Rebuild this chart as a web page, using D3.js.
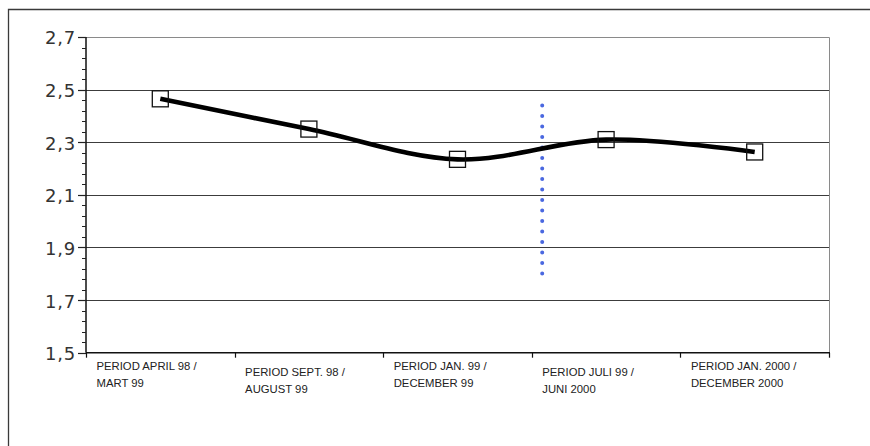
<!DOCTYPE html>
<html>
<head>
<meta charset="utf-8">
<script src="https://cdn.jsdelivr.net/npm/d3@7"></script>
<style>
  html, body { margin: 0; padding: 0; background: #fff; }
  svg { display: block; }
</style>
</head>
<body>
<svg id="chart" width="870" height="446"></svg>
<script>
// Period categories (two-line labels)
const periodLines = [
  ["PERIOD APRIL 98 /", "MART 99"],
  ["PERIOD SEPT. 98 /", "AUGUST 99"],
  ["PERIOD JAN. 99 /", "DECEMBER 99"],
  ["PERIOD JULI 99 /", "JUNI 2000"],
  ["PERIOD JAN. 2000 /", "DECEMBER 2000"]
];
// Mean value per period
const values = [2.465, 2.35, 2.235, 2.31, 2.263];
// Value-axis ticks
const yTicks = [1.5, 1.7, 1.9, 2.1, 2.3, 2.5, 2.7];
// Vertical marker: position on the category axis (in category units) and value span
const markerAt = 3.07;
const markerSpan = [1.80, 2.44];

const svg = d3.select("#chart");
const W = 870, H = 446;
const plot = { left: 86, right: 829, top: 37, bottom: 352.7 };

const x = d3.scaleLinear().domain([0, periodLines.length]).range([plot.left, plot.right]);
const y = d3.scaleLinear().domain([1.5, 2.7]).range([plot.bottom, plot.top]);

// Outer frame (left and top edges)
svg.append("path")
  .attr("d", `M8.5,${H + 2} L8.5,9.5 L${W + 2},9.5`)
  .attr("fill", "none").attr("stroke", "#3a3a3a").attr("stroke-width", 1.3);

// Plot-area border (top and right)
svg.append("path")
  .attr("d", `M${plot.left},${y(2.7) + 0.5} L${plot.right + 0.5},${y(2.7) + 0.5} L${plot.right + 0.5},${plot.bottom}`)
  .attr("fill", "none").attr("stroke", "#8a8a8a").attr("stroke-width", 1);

// Horizontal gridlines
svg.append("g").selectAll("line")
  .data(yTicks.filter(t => t > 1.5 && t < 2.7))
  .join("line")
  .attr("x1", plot.left).attr("x2", plot.right)
  .attr("y1", d => Math.round(y(d)) + 0.5).attr("y2", d => Math.round(y(d)) + 0.5)
  .attr("stroke", "#3c3c3c").attr("stroke-width", 1.2);

// Value axis with minor ticks
const minorTicks = d3.range(1.5, 2.7001, 0.04).filter(t => !yTicks.some(m => Math.abs(m - t) < 1e-6));
const yAxis = svg.append("g").attr("transform", `translate(${plot.left},0)`);
yAxis.append("line")
  .attr("x1", 0).attr("x2", 0).attr("y1", plot.top).attr("y2", plot.bottom)
  .attr("stroke", "#111").attr("stroke-width", 1.5);
yAxis.selectAll("line.minor").data(minorTicks).join("line").attr("class", "minor")
  .attr("x1", -4).attr("x2", 0)
  .attr("y1", d => Math.round(y(d)) + 0.5).attr("y2", d => Math.round(y(d)) + 0.5)
  .attr("stroke", "#222").attr("stroke-width", 1);
yAxis.selectAll("line.major").data(yTicks).join("line").attr("class", "major")
  .attr("x1", -8).attr("x2", 0)
  .attr("y1", d => Math.round(y(d)) + 0.5).attr("y2", d => Math.round(y(d)) + 0.5)
  .attr("stroke", "#222").attr("stroke-width", 1.2);
yAxis.selectAll("text").data(yTicks).join("text")
  .attr("x", -10).attr("y", d => y(d) + 1)
  .attr("dy", "0.36em")
  .attr("text-anchor", "end")
  .attr("font-family", "DejaVu Sans, Verdana, sans-serif")
  .attr("font-size", 18)
  .attr("letter-spacing", 0.8)
  .attr("fill", "#333")
  .text(d => d3.format(".1f")(d).replace(".", ","));

// Category axis
const xAxis = svg.append("g");
xAxis.append("line")
  .attr("x1", plot.left).attr("x2", plot.right + 1)
  .attr("y1", plot.bottom).attr("y2", plot.bottom)
  .attr("stroke", "#111").attr("stroke-width", 1.6);
xAxis.selectAll("line.tick").data(d3.range(periodLines.length + 1)).join("line").attr("class", "tick")
  .attr("x1", d => Math.round(x(d)) + 0.5).attr("x2", d => Math.round(x(d)) + 0.5)
  .attr("y1", plot.bottom).attr("y2", plot.bottom + 5)
  .attr("stroke", "#111").attr("stroke-width", 1.2);
const catLabels = xAxis.selectAll("text").data(periodLines).join("text")
  .attr("font-family", "Liberation Sans, Arial, sans-serif")
  .attr("font-size", 11.3)
  .attr("fill", "#222")
  .attr("transform", (d, i) => `translate(${x(i) + 10.5},${plot.bottom + (i % 2 ? 23.5 : 17.5)})`);
catLabels.selectAll("tspan").data(d => d).join("tspan")
  .attr("x", 0).attr("y", (d, j) => j * 16.5)
  .text(d => d);

// Vertical dotted marker
svg.append("line")
  .attr("x1", x(markerAt)).attr("x2", x(markerAt))
  .attr("y1", y(markerSpan[1])).attr("y2", y(markerSpan[0]))
  .attr("stroke", "#4a68e0").attr("stroke-width", 4)
  .attr("stroke-linecap", "round")
  .attr("stroke-dasharray", "0.1 10.4");

// Smoothed series line
const line = d3.line()
  .x((d, i) => x(i + 0.5))
  .y(d => y(d))
  .curve(d3.curveCardinal.tension(0));
svg.append("path")
  .datum(values)
  .attr("d", line)
  .attr("fill", "none")
  .attr("stroke", "#000")
  .attr("stroke-width", 4.6)
  .attr("stroke-linecap", "butt");

// Hollow square markers
svg.append("g").selectAll("rect").data(values).join("rect")
  .attr("x", (d, i) => x(i + 0.5) - 8)
  .attr("y", d => y(d) - 8)
  .attr("width", 16).attr("height", 16)
  .attr("fill", "none")
  .attr("stroke", "#111").attr("stroke-width", 1.3);
</script>
</body>
</html>
